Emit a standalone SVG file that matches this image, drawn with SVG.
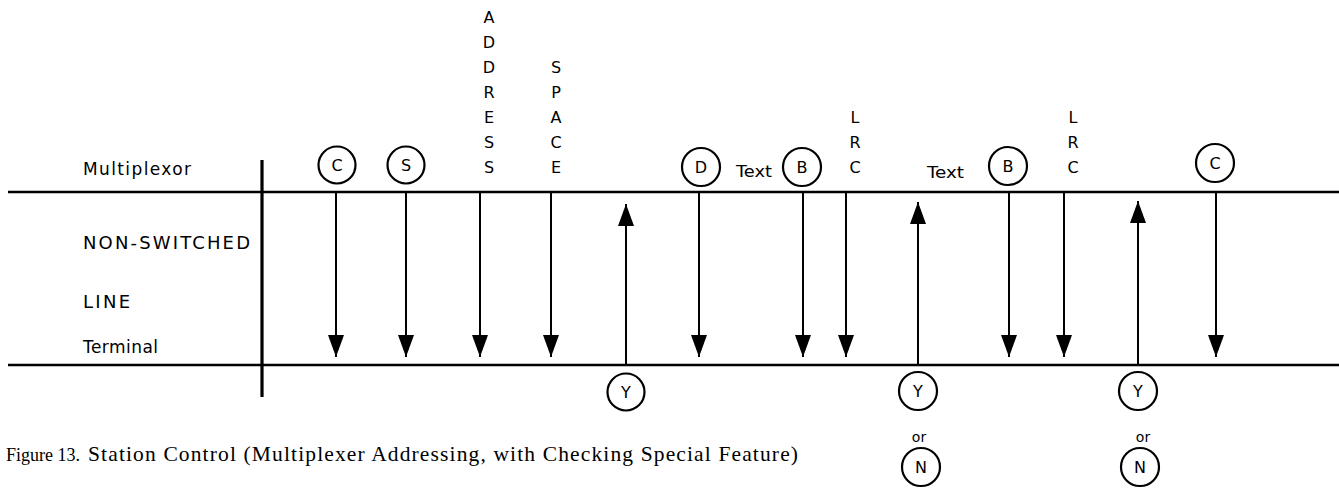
<svg xmlns="http://www.w3.org/2000/svg" width="1339" height="490" viewBox="0 0 1339 490">
<style>
.t{font-family:"DejaVu Sans","Liberation Sans",sans-serif;font-size:16px;fill:#000}
.c{font-family:"DejaVu Sans","Liberation Sans",sans-serif;font-size:16px;fill:#000;text-anchor:middle}
.or{font-size:14px}
.big{font-size:18px}
.mid{font-size:17px}
.cap{font-family:"Liberation Serif","DejaVu Serif",serif;font-size:21.5px;fill:#000}
.fig{font-size:18px}
.node circle{fill:#fff;stroke:#000;stroke-width:2.2}
.ln{stroke:#000;stroke-width:2.5;fill:none}
.ar{stroke:#000;stroke-width:2;fill:none;marker-end:url(#ah)}
</style>
<defs>
<marker id="ah" markerUnits="userSpaceOnUse" markerWidth="22" markerHeight="16" refX="22" refY="8" orient="auto" viewBox="0 0 22 16">
<path d="M0,0 L22,8 L0,16 z" fill="#000"/>
</marker>
</defs>
<rect width="1339" height="490" fill="#fff"/>
<g id="frame">
<line class="ln" x1="8" y1="192" x2="1339" y2="192"/>
<line class="ln" x1="8" y1="365" x2="1339" y2="365"/>
<line x1="262" y1="160" x2="262" y2="397" stroke="#000" stroke-width="3.2"/>
</g>
<g id="labels">
<text class="t mid" x="83" y="175" textLength="108" lengthAdjust="spacing">Multiplexor</text>
<text class="t big" x="83" y="249" textLength="167" lengthAdjust="spacing">NON-SWITCHED</text>
<text class="t big" x="83" y="308" textLength="47" lengthAdjust="spacing">LINE</text>
<text class="t mid" x="83" y="353" textLength="75" lengthAdjust="spacing">Terminal</text>
</g>
<g id="connectors">
<line class="ar" x1="336" y1="192" x2="336" y2="357"/>
<line class="ar" x1="406" y1="192" x2="406" y2="357"/>
<line class="ar" x1="480" y1="192" x2="480" y2="357"/>
<line class="ar" x1="551" y1="192" x2="551" y2="357"/>
<line class="ar" x1="626" y1="365" x2="626" y2="204"/>
<line class="ar" x1="699" y1="192" x2="699" y2="357"/>
<line class="ar" x1="803" y1="192" x2="803" y2="357"/>
<line class="ar" x1="846" y1="192" x2="846" y2="357"/>
<line class="ar" x1="918" y1="365" x2="918" y2="202"/>
<line class="ar" x1="1009" y1="192" x2="1009" y2="357"/>
<line class="ar" x1="1064" y1="192" x2="1064" y2="357"/>
<line class="ar" x1="1138" y1="365" x2="1138" y2="201"/>
<line class="ar" x1="1216" y1="192" x2="1216" y2="357"/>
</g>
<g id="n-C1" class="node"><circle cx="337" cy="165" r="18.5"/><text class="c" x="337" y="171">C</text></g>
<g id="n-S" class="node"><circle cx="406" cy="165" r="18.5"/><text class="c" x="406" y="171">S</text></g>
<g id="n-address">
<text class="c" x="489" y="23">A</text>
<text class="c" x="489" y="48">D</text>
<text class="c" x="489" y="73">D</text>
<text class="c" x="489" y="98">R</text>
<text class="c" x="489" y="123">E</text>
<text class="c" x="489" y="148">S</text>
<text class="c" x="489" y="173">S</text>
</g>
<g id="n-space">
<text class="c" x="556" y="73">S</text>
<text class="c" x="556" y="98">P</text>
<text class="c" x="556" y="123">A</text>
<text class="c" x="556" y="148">C</text>
<text class="c" x="556" y="173">E</text>
</g>
<g id="n-Y1" class="node"><circle cx="626" cy="392" r="18.5"/><text class="c" x="626" y="398">Y</text></g>
<g id="n-D" class="node"><circle cx="701" cy="167" r="19"/><text class="c" x="701" y="173">D</text></g>
<g id="n-text1"><text class="t" x="736" y="177" textLength="36" lengthAdjust="spacingAndGlyphs">Text</text></g>
<g id="n-B1" class="node"><circle cx="802" cy="167" r="19"/><text class="c" x="802" y="173">B</text></g>
<g id="n-lrc1">
<text class="c" x="855" y="123">L</text>
<text class="c" x="855" y="148">R</text>
<text class="c" x="855" y="173">C</text>
</g>
<g id="n-Y2" class="node"><circle cx="918" cy="391" r="19"/><text class="c" x="918" y="397">Y</text></g>
<g id="n-or1"><text class="c or" x="919" y="442">or</text></g>
<g id="n-N1" class="node"><circle cx="921" cy="467" r="19"/><text class="c" x="921" y="473">N</text></g>
<g id="n-text2"><text class="t" x="927" y="178" textLength="37" lengthAdjust="spacingAndGlyphs">Text</text></g>
<g id="n-B2" class="node"><circle cx="1008" cy="166" r="19"/><text class="c" x="1008" y="172">B</text></g>
<g id="n-lrc2">
<text class="c" x="1073" y="123">L</text>
<text class="c" x="1073" y="148">R</text>
<text class="c" x="1073" y="173">C</text>
</g>
<g id="n-Y3" class="node"><circle cx="1138" cy="391" r="19"/><text class="c" x="1138" y="397">Y</text></g>
<g id="n-or2"><text class="c or" x="1143" y="442">or</text></g>
<g id="n-N2" class="node"><circle cx="1140" cy="467" r="19"/><text class="c" x="1140" y="473">N</text></g>
<g id="n-C2" class="node"><circle cx="1215" cy="163" r="19"/><text class="c" x="1215" y="169">C</text></g>
<g id="caption">
<text class="cap fig" x="6" y="461">Figure 13.</text>
<text class="cap" x="88" y="461" textLength="710" lengthAdjust="spacing">Station Control (Multiplexer Addressing,  with Checking Special Feature)</text>
</g>
</svg>
